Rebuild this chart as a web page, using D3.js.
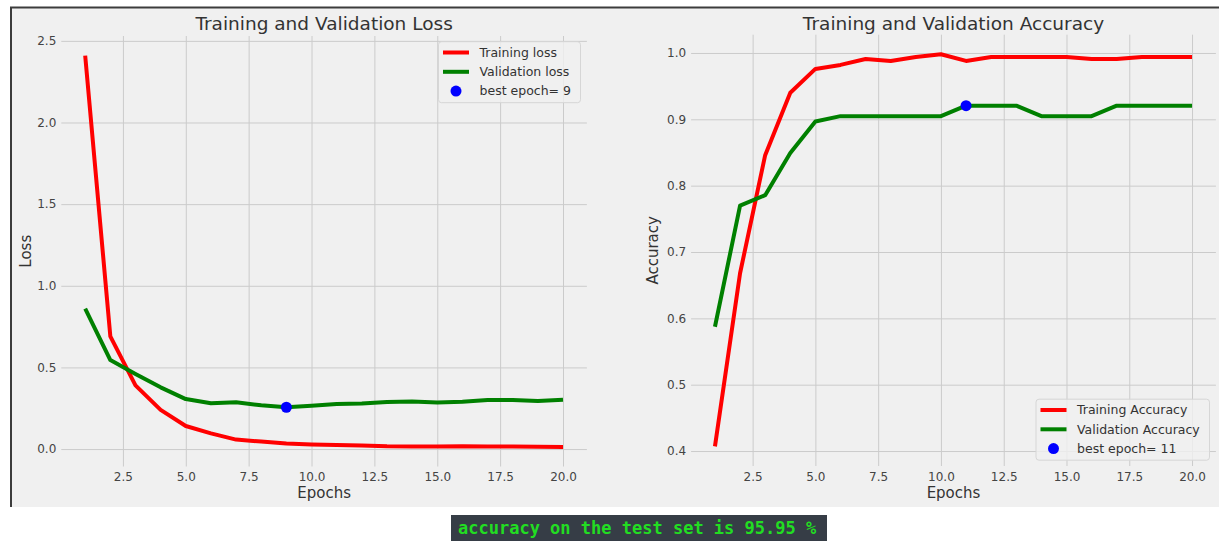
<!DOCTYPE html>
<html>
<head>
<meta charset="utf-8">
<script src="https://cdn.jsdelivr.net/npm/d3@7"></script>
<style>
  html, body { margin: 0; padding: 0; background: #ffffff; }
  svg { display: block; font-family: "DejaVu Sans", sans-serif; }
</style>
</head>
<body>
<svg id="chart" width="1219" height="541"></svg>
<script>
// ---------------- data ----------------
const epochs = [1,2,3,4,5,6,7,8,9,10,11,12,13,14,15,16,17,18,19,20];
const trainLoss = [2.41,0.69,0.39,0.24,0.141,0.096,0.058,0.046,0.034,0.028,0.025,0.022,0.017,0.016,0.015,0.017,0.015,0.015,0.014,0.013];
const valLoss   = [0.86,0.545,0.46,0.378,0.306,0.28,0.286,0.268,0.256,0.265,0.276,0.279,0.288,0.291,0.285,0.29,0.3,0.301,0.294,0.302];
const trainAcc  = [0.407,0.668,0.846,0.940,0.976,0.982,0.991,0.988,0.994,0.998,0.988,0.994,0.994,0.994,0.994,0.991,0.991,0.994,0.994,0.994];
const valAcc    = [0.5873,0.7698,0.7857,0.8492,0.8968,0.9048,0.9048,0.9048,0.9048,0.9048,0.9206,0.9206,0.9206,0.9048,0.9048,0.9048,0.9206,0.9206,0.9206,0.9206];
const bestLossEpoch = 9;
const bestAccEpoch = 11;
const xTicks = [2.5,5.0,7.5,10.0,12.5,15.0,17.5,20.0];
const lossTicks = [0.0,0.5,1.0,1.5,2.0,2.5];
const accTicks = [0.4,0.5,0.6,0.7,0.8,0.9,1.0];
const lossLegend = ["Training loss","Validation loss","best epoch= " + bestLossEpoch];
const accLegend = ["Training Accuracy","Validation Accuracy","best epoch= " + bestAccEpoch];
const footerText = "accuracy on the test set is 95.95 %";

// ---------------- layout ----------------
const svg = d3.select("#chart");
const BG = "#f0f0f0";

svg.append("rect").attr("x",0).attr("y",0).attr("width",1219).attr("height",541).attr("fill","#fff");
svg.append("rect").attr("x",10).attr("y",7).attr("width",1209).attr("height",500).attr("fill",BG);
svg.append("line").attr("x1",10).attr("x2",1219).attr("y1",7.5).attr("y2",7.5).attr("stroke","#3c3c3c").attr("stroke-width",2);
svg.append("line").attr("x1",11).attr("x2",11).attr("y1",7).attr("y2",507).attr("stroke","#3c3c3c").attr("stroke-width",2);

function pad(arr){ const mn=d3.min(arr), mx=d3.max(arr), p=(mx-mn)*0.05; return [mn-p, mx+p]; }

function panel(opts){
  const {left, right, top, bottom, series, yTicks, best, title, ylabel, ylabelX, legend, legendPos} = opts;
  const g = svg.append("g");
  const x = d3.scaleLinear().domain(pad(epochs)).range([left,right]);
  const all = series.flatMap(s=>s.values);
  const y = d3.scaleLinear().domain(pad(all)).range([bottom,top]);

  const gx = g.append("g").attr("transform",`translate(0,${bottom})`)
    .call(d3.axisBottom(x).tickValues(xTicks).tickFormat(d3.format(".1f")).tickSize(-(bottom-top)).tickPadding(6));
  const gy = g.append("g").attr("transform",`translate(${left},0)`)
    .call(d3.axisLeft(y).tickValues(yTicks).tickFormat(d3.format(".1f")).tickSize(-(right-left)).tickPadding(5));
  [gx,gy].forEach(a=>{
    a.select(".domain").remove();
    a.selectAll(".tick line").attr("stroke","#cbcbcb").attr("stroke-width",1);
    a.selectAll(".tick text").attr("fill","#444").attr("font-size",12).attr("font-family","DejaVu Sans");
  });

  const line = d3.line().x((d,i)=>x(epochs[i])).y(d=>y(d));
  series.forEach(s=>{
    g.append("path").datum(s.values).attr("d",line).attr("fill","none")
      .attr("stroke",s.color).attr("stroke-width",4).attr("stroke-linejoin","round");
  });
  g.append("circle").attr("cx",x(best.x)).attr("cy",y(best.y)).attr("r",5.5).attr("fill","#0000ff");

  g.append("text").attr("x",(left+right)/2).attr("y",29.5).attr("text-anchor","middle")
    .attr("font-size",18.5).attr("fill","#333").text(title);
  g.append("text").attr("x",(left+right)/2).attr("y",498).attr("text-anchor","middle")
    .attr("font-size",15).attr("fill","#333").text("Epochs");
  g.append("text").attr("transform",`translate(${ylabelX},${(top+bottom)/2}) rotate(-90)`).attr("text-anchor","middle")
    .attr("font-size",15).attr("fill","#333").text(ylabel);

  const lg = g.append("g").attr("transform",`translate(${legendPos.x},${legendPos.y})`);
  lg.append("rect").attr("x",0.5).attr("y",0.5).attr("width",legendPos.w).attr("height",61).attr("rx",3)
    .attr("fill",BG).attr("fill-opacity",0.8).attr("stroke","#d6d6d6");
  const colors = ["#ff0000","#008000"];
  legend.forEach((t,i)=>{
    const cy = 11.3 + i*19.3;
    if(i<2){
      lg.append("line").attr("x1",5).attr("x2",31).attr("y1",cy).attr("y2",cy).attr("stroke",colors[i]).attr("stroke-width",4);
    } else {
      lg.append("circle").attr("cx",18).attr("cy",cy).attr("r",5.5).attr("fill","#0000ff");
    }
    lg.append("text").attr("x",41.5).attr("y",cy+4.4).attr("font-size",12.5).attr("fill","#333").text(t);
  });
}

panel({
  left:61.3, right:586.9, top:36, bottom:466.5,
  series:[{values:trainLoss,color:"#ff0000"},{values:valLoss,color:"#008000"}],
  yTicks:lossTicks, best:{x:bestLossEpoch,y:valLoss[bestLossEpoch-1]},
  title:"Training and Validation Loss", ylabel:"Loss", ylabelX:31,
  legend:lossLegend, legendPos:{x:438,y:41.2,w:142}
});
panel({
  left:691.1, right:1215.9, top:34.7, bottom:466,
  series:[{values:trainAcc,color:"#ff0000"},{values:valAcc,color:"#008000"}],
  yTicks:accTicks, best:{x:bestAccEpoch,y:valAcc[bestAccEpoch-1]},
  title:"Training and Validation Accuracy", ylabel:"Accuracy", ylabelX:658,
  legend:accLegend, legendPos:{x:1035.5,y:398.7,w:173.5}
});

svg.append("rect").attr("x",451).attr("y",515).attr("width",376).attr("height",26).attr("fill","#363d46");
svg.append("text").attr("x",458).attr("y",534).attr("font-family","DejaVu Sans Mono, monospace")
  .attr("font-size",17).attr("font-weight","bold").attr("fill","#22dd22").text(footerText);
</script>
</body>
</html>
